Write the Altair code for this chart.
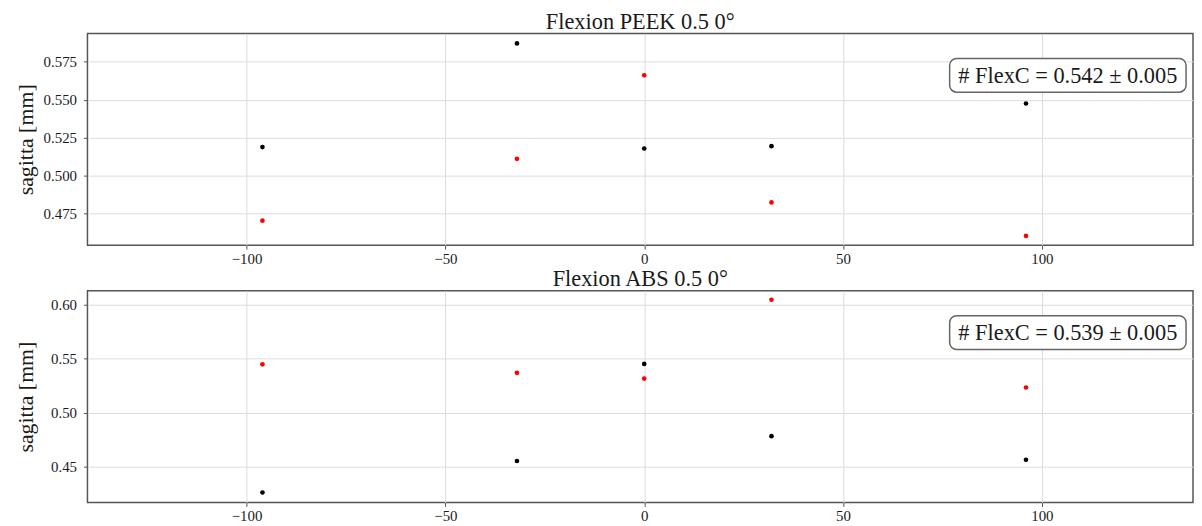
import altair as alt
import pandas as pd

x_pos = [-96, -32, 0, 32, 96]
peek_black = [0.5188, 0.5870, 0.5179, 0.5194, 0.5475]
peek_red = [0.4704, 0.5111, 0.5661, 0.4824, 0.4604]
abs_black = [0.4256, 0.4549, 0.5452, 0.4780, 0.4561]
abs_red = [0.5448, 0.5369, 0.5316, 0.6049, 0.5233]
titles = ["Flexion PEEK 0.5 0°", "Flexion ABS 0.5 0°"]
notes = ["# FlexC = 0.542 ± 0.005", "# FlexC = 0.539 ± 0.005"]
x_ticks = [-100, -50, 0, 50, 100]
peek_ticks = [0.475, 0.500, 0.525, 0.550, 0.575]
abs_ticks = [0.45, 0.50, 0.55, 0.60]
x_domain = [-140, 138]
peek_domain = [0.4543, 0.5935]
abs_domain = [0.4164, 0.6132]

FONT = "Liberation Serif"
W, H = 1113, 213


def panel(black, red, title, note, ydom, yticks, yfmt):
    df = pd.DataFrame({
        "x": x_pos + x_pos,
        "y": black + red,
        "s": ["black"] * len(black) + ["red"] * len(red),
    })
    pts = alt.Chart(df).mark_circle(size=22, opacity=1).encode(
        x=alt.X("x:Q", scale=alt.Scale(domain=x_domain, nice=False, zero=False),
                axis=alt.Axis(values=x_ticks, title=None, labelPadding=2)),
        y=alt.Y("y:Q", scale=alt.Scale(domain=ydom, nice=False, zero=False),
                axis=alt.Axis(values=yticks, format=yfmt, title="sagitta [mm]",
                              labelPadding=7, minExtent=45, maxExtent=45,
                              titlePadding=5)),
        color=alt.Color("s:N", scale=None),
    )
    ndf = pd.DataFrame({"t": [note]})
    box = alt.Chart(ndf).mark_rect(
        cornerRadius=7, fill="white", stroke="#666", strokeWidth=1.5
    ).encode(x=alt.value(868), x2=alt.value(1106), y=alt.value(25), y2=alt.value(59))
    txt = alt.Chart(ndf).mark_text(font=FONT, fontSize=22.5, color="#1a1a1a").encode(
        text="t:N", x=alt.value(987), y=alt.value(42.5))
    return alt.layer(pts, box, txt).properties(
        width=W, height=H,
        title=alt.TitleParams(title, font=FONT, fontSize=22.5, fontWeight="normal",
                              color="#1a1a1a", anchor="middle", offset=0),
    )


top = panel(peek_black, peek_red, titles[0], notes[0], peek_domain, peek_ticks, ".3f")
bot = panel(abs_black, abs_red, titles[1], notes[1], abs_domain, abs_ticks, ".2f")

chart = alt.vconcat(top, bot, spacing=0).properties(
    padding={"left": 6, "top": 0, "right": 0, "bottom": 0}
).configure_view(
    stroke="#555", strokeWidth=1.5
).configure_axis(
    labelFont=FONT, labelFontSize=15, labelColor="#1a1a1a",
    titleFont=FONT, titleFontSize=22, titleFontWeight="normal", titleColor="#1a1a1a",
    gridColor="#dcdcdc", gridWidth=1, domain=False,
    tickColor="#555", tickSize=4,
)

chart.save("out.html", embed_options={"renderer": "svg", "actions": False})
